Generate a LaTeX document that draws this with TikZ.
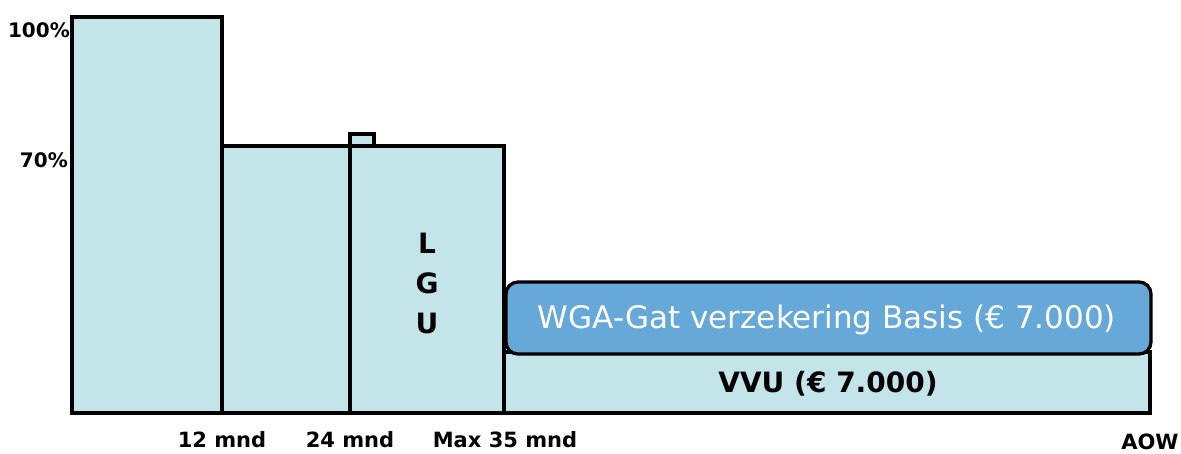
\documentclass[tikz,border=0pt]{standalone}
\usepackage{fontspec}
\setmainfont{DejaVu Sans}
\definecolor{barfill}{HTML}{C3E5E9}
\definecolor{wgafill}{HTML}{66A8D8}
\begin{document}
\begin{tikzpicture}[x=1pt,y=-1pt,
  bar/.style={draw=black,line width=3.3pt,fill=barfill,line join=miter},
  lbl/.style={font=\fontsize{21}{24}\selectfont\bfseries,inner sep=0pt},
  big/.style={font=\fontsize{28}{32}\selectfont\bfseries,inner sep=0pt}]
\useasboundingbox (0,0) rectangle (1181,453);
% bars
\draw[bar] (72,17) rectangle (222,413);
\draw[bar] (222,146) rectangle (350,413);
\draw[bar] (350,134) rectangle (374,146);
\draw[bar] (350,146) rectangle (504,413);
\draw[bar] (504,352) rectangle (1150,413);
\draw[line width=3.3pt] (72,413) -- (1150,413);
\node[draw=black,line width=3.3pt,fill=wgafill,rounded corners=12pt,minimum width=645pt,minimum height=72pt,inner sep=0pt] (wga) at (828.5,318) {};
\node[font=\fontsize{31}{34}\selectfont,text=white,inner sep=0pt] (wgat) at (827,320) {WGA-Gat verzekering Basis (€ 7.000)};
\node[big] (vvu) at (828,384) {VVU (€ 7.000)};
\node[big] (l) at (427,243) {L};
\node[big] (g) at (427,283) {G};
\node[big] (u) at (427,323) {U};
% axis labels
\node[lbl,anchor=east,font=\fontsize{20}{24}\selectfont\bfseries] (p100) at (70,30) {100\%};
\node[lbl,anchor=east,font=\fontsize{20}{24}\selectfont\bfseries] (p70) at (68,160) {70\%};
\node[lbl] (m12) at (222,440) {12 mnd};
\node[lbl] (m24) at (350,440) {24 mnd};
\node[lbl] (m35) at (505,440) {Max 35 mnd};
\node[lbl] (aow) at (1150,442) {AOW};
\end{tikzpicture}
\end{document}
